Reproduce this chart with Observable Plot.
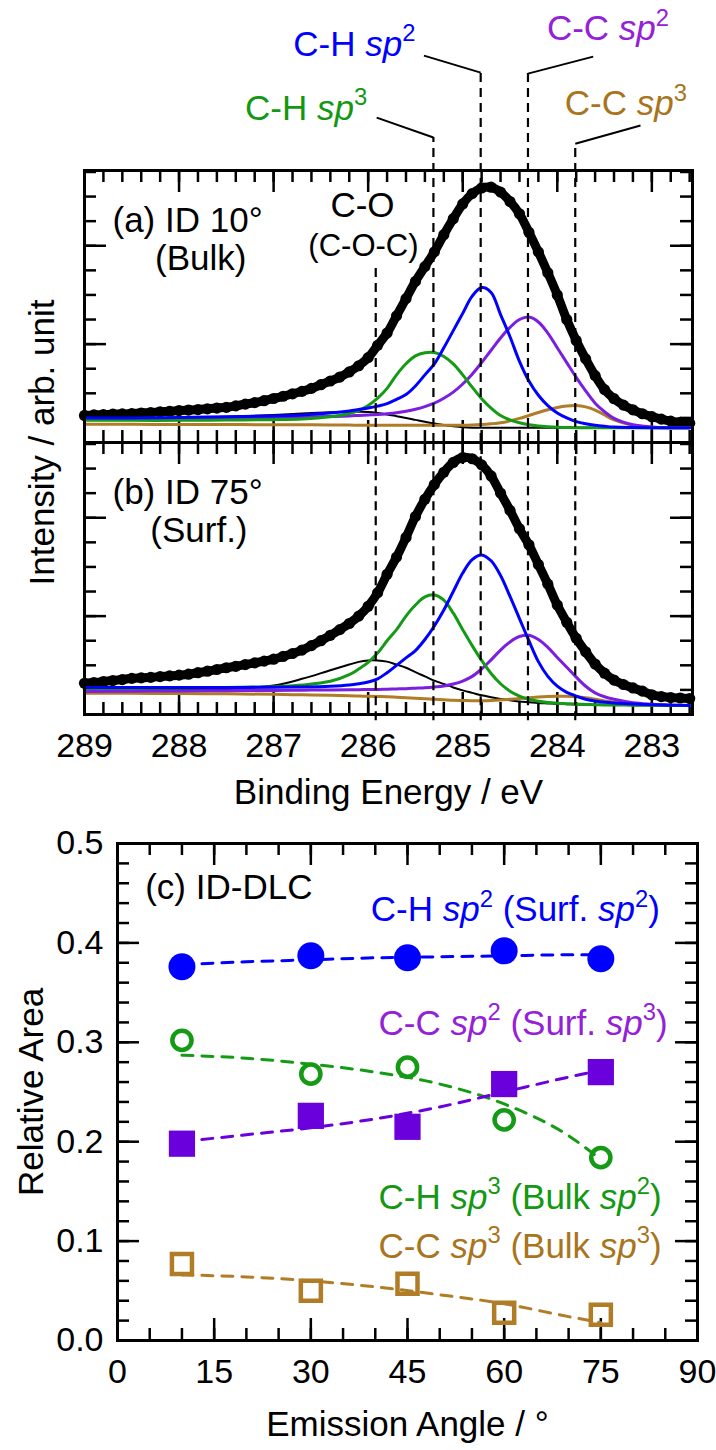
<!DOCTYPE html>
<html>
<head>
<meta charset="utf-8">
<script src="https://cdn.jsdelivr.net/npm/d3@7"></script>
<script src="https://cdn.jsdelivr.net/npm/@observablehq/plot@0.6"></script>
<style>
html,body{margin:0;padding:0;background:#fff;}
#wrap{position:relative;width:716px;height:1450px;overflow:hidden;background:#fff;}
</style>
</head>
<body>
<div id="wrap"></div>
<script>
// ================= DATA =================
// --- XPS C1s spectra: measured points (intensity in arb. units, one unit = one minor tick)
const dataEnergy = [289.0,288.9,288.8,288.7,288.6,288.5,288.4,288.3,288.2,288.1,
  288.0,287.9,287.8,287.7,287.6,287.5,287.4,287.3,287.2,287.1,
  287.0,286.9,286.8,286.7,286.6,286.5,286.4,286.3,286.2,286.1,
  286.0,285.9,285.8,285.7,285.6,285.5,285.4,285.3,285.2,285.1,
  285.0,284.9,284.8,284.7,284.6,284.5,284.4,284.3,284.2,284.1,
  284.0,283.9,283.8,283.7,283.6,283.5,283.4,283.3,283.2,283.1,
  283.0,282.9,282.8,282.7,282.6];
const dataBulk10 = [1.10,1.12,1.13,1.15,1.16,1.18,1.20,1.22,1.25,1.27,
  1.30,1.32,1.34,1.37,1.40,1.43,1.49,1.56,1.62,1.70,
  1.79,1.88,1.98,2.08,2.20,2.35,2.50,2.66,2.87,3.12,
  3.45,3.95,4.45,5.15,5.85,6.55,7.15,7.75,8.45,9.10,
  9.70,10.12,10.35,10.38,10.18,9.80,9.30,8.55,7.75,6.90,
  6.00,5.00,4.15,3.40,2.72,2.15,1.78,1.52,1.33,1.17,
  1.05,0.95,0.87,0.82,0.78];
const dataSurf75 = [1.27,1.30,1.34,1.38,1.42,1.47,1.49,1.51,1.54,1.57,
  1.60,1.64,1.70,1.76,1.83,1.90,1.96,2.03,2.10,2.17,
  2.25,2.36,2.48,2.62,2.80,3.00,3.22,3.45,3.70,4.00,
  4.40,4.95,5.70,6.40,7.20,8.05,8.75,9.35,9.85,10.25,
  10.45,10.40,10.15,9.70,9.00,8.30,7.55,6.90,6.10,5.30,
  4.45,3.75,3.10,2.55,2.05,1.68,1.40,1.22,1.08,0.95,
  0.80,0.73,0.69,0.67,0.65];

// --- fitted components
const compEnergy = [289.0,288.5,288.0,287.5,287.0,286.7,286.4,286.2,286.1,286.0,
  285.9,285.8,285.7,285.6,285.5,285.4,285.3,285.2,285.1,285.0,
  284.9,284.8,284.7,284.6,284.5,284.4,284.3,284.2,284.1,284.0,
  283.9,283.8,283.7,283.6,283.5,283.4,283.2,283.0,282.8,282.6];
// (a) ID 10°
const a_CO   = [0.95,0.97,1.00,1.05,1.12,1.18,1.23,1.25,1.25,1.24, 1.20,1.14,1.07,1.00,0.92,0.84,0.77,0.71,0.66,0.62, 0.60,0.60,0.60,0.60,0.60,0.60,0.60,0.60,0.60,0.60, 0.60,0.60,0.60,0.60,0.60,0.60,0.60,0.60,0.60,0.60];
const a_CCsp3 = [0.74,0.74,0.73,0.73,0.72,0.72,0.71,0.71,0.70,0.70, 0.70,0.70,0.70,0.70,0.70,0.70,0.70,0.70,0.70,0.70, 0.71,0.73,0.76,0.80,0.88,0.98,1.10,1.22,1.33,1.42, 1.48,1.50,1.45,1.32,1.12,0.92,0.70,0.62,0.60,0.60];
const a_CCsp2 = [0.98,0.98,0.99,1.00,1.02,1.04,1.06,1.08,1.10,1.12, 1.14,1.17,1.21,1.27,1.35,1.46,1.60,1.80,2.05,2.38, 2.78,3.25,3.75,4.25,4.68,5.00,5.10,4.90,4.45,3.85, 3.25,2.65,2.10,1.60,1.25,0.98,0.72,0.63,0.60,0.60];
const a_CHsp3 = [0.90,0.90,0.90,0.91,0.93,0.96,1.05,1.18,1.30,1.50, 1.80,2.20,2.75,3.20,3.52,3.65,3.66,3.50,3.20,2.75, 2.25,1.78,1.40,1.10,0.92,0.80,0.72,0.67,0.64,0.62, 0.61,0.60,0.60,0.60,0.60,0.60,0.60,0.60,0.60,0.60];
const a_CHsp2 = [1.00,1.00,1.02,1.05,1.08,1.12,1.20,1.28,1.34,1.40, 1.48,1.58,1.75,1.95,2.30,2.75,3.20,3.85,4.55,5.25, 5.95,6.30,6.10,5.20,4.30,3.30,2.50,1.92,1.50,1.20, 1.00,0.85,0.76,0.70,0.66,0.63,0.61,0.60,0.60,0.60];
// (b) ID 75°
const b_CO   = [0.98,0.99,1.00,1.03,1.18,1.45,1.80,2.03,2.14,2.20, 2.20,2.15,2.03,1.90,1.72,1.55,1.38,1.24,1.10,0.98, 0.88,0.78,0.70,0.63,0.58,0.53,0.50,0.47,0.45,0.43, 0.42,0.41,0.40,0.40,0.39,0.39,0.38,0.38,0.37,0.37];
const b_CCsp3 = [0.86,0.86,0.85,0.84,0.82,0.80,0.78,0.76,0.75,0.74, 0.73,0.72,0.70,0.68,0.66,0.64,0.62,0.60,0.58,0.57, 0.56,0.56,0.57,0.59,0.62,0.65,0.68,0.71,0.73,0.74, 0.74,0.72,0.68,0.62,0.55,0.50,0.43,0.40,0.38,0.37];
const b_CCsp2 = [0.94,0.95,0.96,0.97,0.98,0.99,1.00,1.01,1.01,1.02, 1.02,1.03,1.04,1.05,1.07,1.09,1.12,1.16,1.24,1.36, 1.55,1.85,2.22,2.62,2.95,3.17,3.22,3.05,2.73,2.32, 1.92,1.52,1.15,0.88,0.72,0.62,0.48,0.42,0.38,0.37];
const b_CHsp3 = [1.06,1.07,1.08,1.10,1.13,1.20,1.35,1.62,1.85,2.12, 2.50,3.00,3.45,4.00,4.45,4.78,4.86,4.65,4.12,3.45, 2.80,2.20,1.67,1.25,0.95,0.75,0.62,0.54,0.49,0.46, 0.44,0.42,0.41,0.40,0.39,0.39,0.38,0.38,0.37,0.37];
const b_CHsp2 = [1.10,1.10,1.10,1.10,1.11,1.12,1.15,1.20,1.25,1.32, 1.45,1.70,2.00,2.30,2.60,3.05,3.60,4.25,5.00,5.75, 6.30,6.49,6.25,5.65,4.80,3.90,3.00,2.15,1.55,1.15, 0.90,0.75,0.62,0.55,0.50,0.47,0.43,0.40,0.38,0.37];

// --- peak positions (eV) and guide annotations
const peakNames   = ["C-O", "C-H sp3", "C-H sp2", "C-C sp2", "C-C sp3"];
const peakCenters = [285.92, 285.31, 284.81, 284.31, 283.81];
const guideTops   = [7.2, 12.4, 15.04, 15.0, 12.15];
const leaderEndE  = [null, 285.91, 285.41, 283.62, 283.12];
const leaderEndY  = [null, 13.21, 15.73, 15.69, 12.89];
const peakLabels  = [null, "C-H _sp_^3^", "C-H _sp_^2^", "C-C _sp_^2^", "C-C _sp_^3^"];
const labelE      = [null, 286.01, 285.50, 284.11, 283.92];
const labelY      = [null, 13.58, 16.18, 16.81, 13.76];
const labelSide   = [null, "end", "end", "start", "start"];

// --- axis ticks
const energyTickLabels = [289, 288, 287, 286, 285, 284, 283];
const energyMinorTicks = d3.range(0, 33).map(i => +(289 - 0.2 * i).toFixed(1));
const intensityMinorTicks = [1,2,3,4,5,6,7,8,9,10,11];
const intensityMajorTicks = [4, 8];

// --- (c) relative area vs emission angle
const angles = [10, 30, 45, 60, 75];
const relCHsp2 = [0.376, 0.387, 0.385, 0.392, 0.384];
const relCHsp3 = [0.302, 0.268, 0.275, 0.222, 0.184];
const relCCsp2 = [0.198, 0.226, 0.215, 0.258, 0.270];
const relCCsp3 = [0.077, 0.050, 0.057, 0.028, 0.026];
const fitAngles = [10, 20, 30, 40, 50, 60, 70, 75];
const fitCHsp2 = [0.378, 0.381, 0.383, 0.385, 0.386, 0.387, 0.388, 0.388];
const fitCHsp3 = [0.287, 0.284, 0.278, 0.270, 0.258, 0.238, 0.206, 0.182];
const fitCCsp2 = [0.200, 0.207, 0.214, 0.223, 0.235, 0.250, 0.265, 0.272];
const fitCCsp3 = [0.066, 0.064, 0.060, 0.054, 0.046, 0.037, 0.024, 0.018];
const angleTickLabels = [0, 15, 30, 45, 60, 75, 90];
const angleMinorTicks = d3.range(0, 91, 5);
const areaTickLabels = ["0.0", "0.1", "0.2", "0.3", "0.4", "0.5"];
const areaMinorTicks = d3.range(0, 26).map(i => +(i * 0.02).toFixed(2));

// ================= STYLE =================
const FONT = "Liberation Sans, Arial, Helvetica, sans-serif";
const C_GREEN = "#159a15", C_BLUE = "#0000ff", C_PURPLE = "#7a1ee0", C_BROWN = "#b07c26";
const T_GREEN = "#129812", T_PURPLE = "#9420d8", T_BROWN = "#a8741c";
const TICK_W = 2.5;
const wrap = document.getElementById("wrap");

function txt(data, o) {
  return Plot.text(data, {fontFamily: FONT, fontSize: 35, lineAnchor: "middle", fill: "black", text: d => d, ...o});
}
function boxTicks(xMinor, xMajor, yMinor, yMajor, fw, fh) {
  const st = {stroke: "black", strokeWidth: TICK_W};
  const mi = 12, ma = 22;
  return [
    Plot.ruleX(xMinor, {x: d => d, insetBottom: fh - mi, ...st}),
    Plot.ruleX(xMajor, {x: d => d, insetBottom: fh - ma, ...st}),
    Plot.ruleX(xMinor, {x: d => d, insetTop: fh - mi, ...st}),
    Plot.ruleX(xMajor, {x: d => d, insetTop: fh - ma, ...st}),
    Plot.ruleY(yMinor, {y: d => d, insetRight: fw - mi, ...st}),
    Plot.ruleY(yMajor, {y: d => d, insetRight: fw - ma, ...st}),
    Plot.ruleY(yMinor, {y: d => d, insetLeft: fw - mi, ...st}),
    Plot.ruleY(yMajor, {y: d => d, insetLeft: fw - ma, ...st})
  ];
}
function place(svg, top) {
  svg.style.position = "absolute";
  svg.style.left = "0px";
  svg.style.top = top + "px";
  svg.style.overflow = "visible";
  svg.style.background = "transparent";
  svg.style.maxWidth = "none";
  wrap.appendChild(svg);
  richify(svg);
}
// turn "_x_" into italic and "^x^" into superscript tspans
function richify(svg) {
  const NS = "http://www.w3.org/2000/svg";
  svg.querySelectorAll("text").forEach(t => {
    const s = t.textContent;
    if (!/[_^]/.test(s)) return;
    const F = parseFloat(getComputedStyle(t).fontSize) || 35;
    const parts = s.split(/(_[^_]+_|\^[^^]+\^)/g).filter(p => p !== "");
    t.textContent = "";
    let raised = false;
    for (const p of parts) {
      const ts = document.createElementNS(NS, "tspan");
      if (p[0] === "^") {
        ts.textContent = p.slice(1, -1);
        ts.setAttribute("font-size", (F * 0.68).toFixed(1));
        ts.setAttribute("dy", (-F * 0.42).toFixed(1));
        raised = true;
      } else {
        if (p[0] === "_") { ts.textContent = p.slice(1, -1); ts.setAttribute("font-style", "italic"); }
        else ts.textContent = p;
        if (raised) { ts.setAttribute("dy", (F * 0.42).toFixed(1)); raised = false; }
      }
      t.appendChild(ts);
    }
  });
}

const specX = {domain: [289, 282.57], axis: null};
const specY = {domain: [0, 11.06], axis: null};
const FW = 608, FH = 272;
const specMargins = {marginLeft: 84, marginRight: 24};

function components(arrs) {
  const spec = [
    [arrs[0], "black", 2],
    [arrs[1], C_BROWN, 3],
    [arrs[2], C_PURPLE, 3],
    [arrs[3], C_GREEN, 3],
    [arrs[4], C_BLUE, 3]
  ];
  return spec.map(([vals, c, w]) => Plot.line(compEnergy, {x: d => d, y: (d, i) => vals[i], stroke: c, strokeWidth: w, curve: "catmull-rom"}));
}
function measured(vals) {
  return [
    Plot.line(dataEnergy, {x: d => d, y: (d, i) => vals[i], stroke: "black", strokeWidth: 9, curve: "catmull-rom"}),
    Plot.dot(dataEnergy, {x: d => d, y: (d, i) => vals[i], r: 5.6, fill: "black"})
  ];
}
const peakRows = peakNames.map((n, i) => ({
  name: n, e: peakCenters[i], top: guideTops[i],
  le: leaderEndE[i], ly: leaderEndY[i], label: peakLabels[i], lx: labelE[i], lyy: labelY[i], side: labelSide[i]
}));
const labelColors = {"C-H sp3": T_GREEN, "C-H sp2": C_BLUE, "C-C sp2": T_PURPLE, "C-C sp3": T_BROWN};

// ---------------- panel (a) ----------------
const svgA = Plot.plot({
  width: 716, height: 442, marginTop: 170, marginBottom: 0, ...specMargins,
  x: specX, y: specY,
  style: {background: "transparent", overflow: "visible"},
  marks: [
    ...boxTicks(energyMinorTicks, energyTickLabels, intensityMinorTicks, intensityMajorTicks, FW, FH),
    ...measured(dataBulk10),
    ...components([a_CO, a_CCsp3, a_CCsp2, a_CHsp3, a_CHsp2]),
    Plot.ruleX(peakRows, {x: "e", y1: 0, y2: "top", stroke: "black", strokeWidth: 2.2, strokeDasharray: "9,6"}),
    Plot.link(peakRows.filter(d => d.le != null), {x1: "e", y1: "top", x2: "le", y2: "ly", stroke: "black", strokeWidth: 2}),
    txt(peakRows.filter(d => d.side === "end"), {x: "lx", y: "lyy", text: "label", textAnchor: "end", fill: d => labelColors[d.name]}),
    txt(peakRows.filter(d => d.side === "start"), {x: "lx", y: "lyy", text: "label", textAnchor: "start", fill: d => labelColors[d.name]}),
    txt(["(a) ID 10°"], {x: () => 287.91, y: () => 9.02}),
    txt(["(Bulk)"], {x: () => 287.77, y: () => 7.48}),
    txt(["C-O"], {x: () => 286.06, y: () => 9.63}),
    txt(["(C-O-C)"], {x: () => 286.05, y: () => 8.0, fontSize: 31}),
    txt(["Intensity / arb. unit"], {frameAnchor: "bottom-left", dx: -42, rotate: -90, textAnchor: "middle"}),
    Plot.frame({stroke: "black", strokeWidth: 3})
  ]
});
place(svgA, 0);

// ---------------- panel (b) ----------------
const svgB = Plot.plot({
  width: 716, height: 378, marginTop: 0, marginBottom: 106, ...specMargins,
  x: specX, y: specY,
  style: {background: "transparent", overflow: "visible"},
  marks: [
    ...boxTicks(energyMinorTicks, energyTickLabels, intensityMinorTicks, intensityMajorTicks, FW, FH),
    ...measured(dataSurf75),
    ...components([b_CO, b_CCsp3, b_CCsp2, b_CHsp3, b_CHsp2]),
    Plot.ruleX(peakRows, {x: "e", y1: -0.25, y2: 11.06, stroke: "black", strokeWidth: 2.2, strokeDasharray: "9,6"}),
    txt(["(b) ID 75°"], {x: () => 287.91, y: () => 9.03}),
    txt(["(Surf.)"], {x: () => 287.79, y: () => 7.48}),
    txt(energyTickLabels, {x: d => d, frameAnchor: "bottom", dy: 32, fontSize: 34, text: d => String(d)}),
    txt(["Binding Energy / eV"], {frameAnchor: "bottom", dy: 78}),
    Plot.frame({stroke: "black", strokeWidth: 3})
  ]
});
place(svgB, 442);

// ---------------- panel (c) ----------------
const CFW = 580, CFH = 497;
const seriesC = [
  {vals: relCHsp2, fit: fitCHsp2, color: C_BLUE, symbol: "circle", filled: true, r: 13.5},
  {vals: relCHsp3, fit: fitCHsp3, color: C_GREEN, symbol: "circle", filled: false, r: 9.6},
  {vals: relCCsp2, fit: fitCCsp2, color: "#6a00dc", symbol: "square", filled: true, r: 14.8},
  {vals: relCCsp3, fit: fitCCsp3, color: C_BROWN, symbol: "square", filled: false, r: 11.3}
];
const cMarks = [...boxTicks(angleMinorTicks, angleTickLabels, areaMinorTicks, areaTickLabels.map(Number), CFW, CFH)];
for (const s of seriesC) {
  cMarks.push(Plot.line(fitAngles, {x: d => d, y: (d, i) => s.fit[i], stroke: s.color, strokeWidth: 3, strokeDasharray: "11,9", curve: "monotone-x"}));
}
for (const s of seriesC) {
  cMarks.push(Plot.dot(angles, {
    x: d => d, y: (d, i) => s.vals[i], r: s.r, symbol: s.symbol,
    fill: s.filled ? s.color : "none", stroke: s.filled ? "none" : s.color, strokeWidth: s.filled ? 0 : 4.5
  }));
}
cMarks.push(
  txt(["(c) ID-DLC"], {x: () => 4.3, y: () => 0.455, textAnchor: "start"}),
  txt(["C-H _sp_^2^ (Surf. _sp_^2^)"], {x: () => 39.3, y: () => 0.433, textAnchor: "start", fill: C_BLUE}),
  txt(["C-C _sp_^2^ (Surf. _sp_^3^)"], {x: () => 40.5, y: () => 0.319, textAnchor: "start", fill: T_PURPLE}),
  txt(["C-H _sp_^3^ (Bulk _sp_^2^)"], {x: () => 40.5, y: () => 0.144, textAnchor: "start", fill: T_GREEN}),
  txt(["C-C _sp_^3^ (Bulk _sp_^3^)"], {x: () => 40.5, y: () => 0.0946, textAnchor: "start", fill: T_BROWN}),
  txt(angleTickLabels, {x: d => d, frameAnchor: "bottom", dy: 32, fontSize: 34, text: d => String(d)}),
  txt(areaTickLabels, {y: d => Number(d), frameAnchor: "left", dx: -14, textAnchor: "end", fontSize: 34}),
  txt(["Emission Angle / °"], {frameAnchor: "bottom", dy: 84}),
  txt(["Relative Area"], {frameAnchor: "left", dx: -86, rotate: -90, textAnchor: "middle"}),
  Plot.frame({stroke: "black", strokeWidth: 3})
);
const svgC = Plot.plot({
  width: 716, height: 630, marginTop: 23, marginBottom: 110, marginLeft: 117, marginRight: 19,
  x: {domain: [0, 90], axis: null},
  y: {domain: [0, 0.5], axis: null},
  style: {background: "transparent", overflow: "visible"},
  marks: cMarks
});
place(svgC, 820);
</script>
</body>
</html>
